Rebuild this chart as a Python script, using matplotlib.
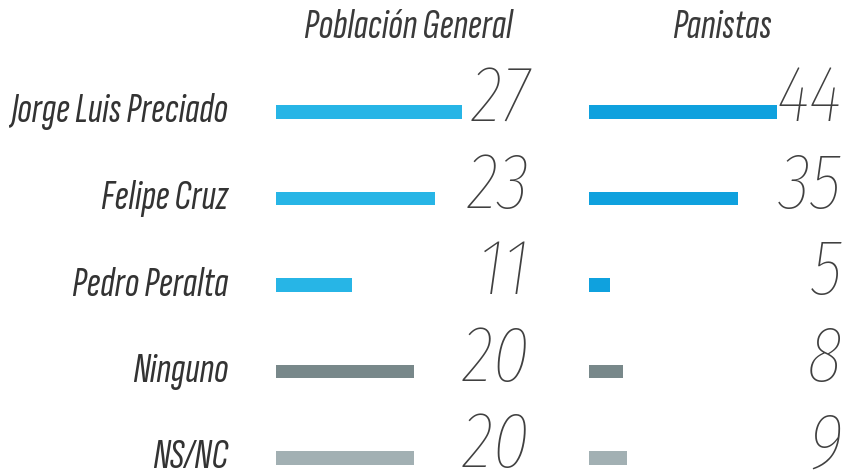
import matplotlib
matplotlib.use("Agg")
import matplotlib.pyplot as plt
import matplotlib.transforms as mtransforms

categories = ["Jorge Luis Preciado", "Felipe Cruz", "Pedro Peralta", "Ninguno", "NS/NC"]
poblacion_general = [27, 23, 11, 20, 20]
panistas = [44, 35, 5, 8, 9]
panel_titles = ["Población General", "Panistas"]

colors_left = ["#27b5e6", "#27b5e6", "#27b5e6", "#78888a", "#a2b0b3"]
colors_right = ["#0fa1de", "#0fa1de", "#0fa1de", "#78888a", "#a2b0b3"]

W, H = 844, 474
fig = plt.figure(figsize=(W / 100, H / 100), dpi=100)
fig.patch.set_facecolor("white")

label_font = dict(family=["Sofia Sans Extra Condensed", "Fira Sans Extra Condensed", "DejaVu Sans"],
                  style="italic")
num_font = dict(family=["Fira Sans Extra Condensed", "DejaVu Sans"], style="italic", weight=200)

y_top = -112 / 86.5
y_bot = (H - 112) / 86.5
ypos = list(range(len(categories)))


def make_panel(left_px, px_per_unit, width_px, values, colors, num_right_px, title, title_cx):
    ax = fig.add_axes([left_px / W, 0, width_px / W, 1])
    ax.set_xlim(0, width_px / px_per_unit)
    ax.set_ylim(y_bot, y_top)
    ax.barh(ypos, values, height=0.155, color=colors, zorder=2)
    ax.axis("off")
    trans = mtransforms.blended_transform_factory(fig.transFigure, ax.transData)
    off = mtransforms.offset_copy(trans, fig=fig, x=0, y=12, units="dots")
    for y, v in zip(ypos, values):
        ax.text(num_right_px / W, y, str(v), transform=off, ha="right", va="center",
                fontsize=57, color="#404040", **num_font)
    fig.text(title_cx / W, 1 - 27 / H, title, ha="center", va="center", fontsize=31,
             color="#3a3a3a", **label_font)
    return ax


axl = make_panel(276, 6.9, 200, poblacion_general, colors_left, 530, panel_titles[0], 408)
axr = make_panel(589, 4.27, 200, panistas, colors_right, 842, panel_titles[1], 722)

trans = mtransforms.blended_transform_factory(fig.transFigure, axl.transData)
for y, c in zip(ypos, categories):
    axl.text(228 / W, y, c, transform=trans, ha="right", va="center", fontsize=31,
             color="#333333", **label_font)

fig.savefig("out.png", dpi=100, facecolor="white")
